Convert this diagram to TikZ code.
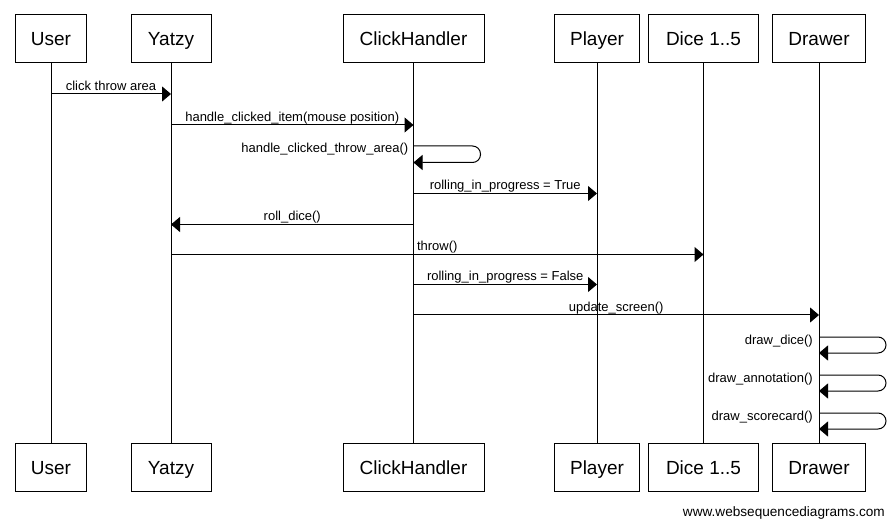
\documentclass[tikz,border=0pt]{standalone}
\usepackage{fontspec}
\setmainfont{Liberation Sans}
\usetikzlibrary{arrows.meta,calc}
\begin{document}
\begin{tikzpicture}[x=1pt,y=-1pt,
  actor/.style={draw,line width=1pt,minimum height=48pt,inner xsep=0pt,
    text height=13.6pt,text depth=0pt,font=\fontsize{19}{22}\selectfont},
  life/.style={line width=1pt},
  msg/.style={line width=1pt,-{Triangle[length=9pt,width=15pt]}},
  lbl/.style={font=\fontsize{13}{15}\selectfont,inner sep=0pt,anchor=base},
  slbl/.style={font=\fontsize{13}{15}\selectfont,inner sep=0pt,anchor=base east},
  selfmsg/.style={line width=1pt,rounded corners=8pt,-{Triangle[length=9pt,width=15pt]}},
  foot/.style={font=\fontsize{13.6}{16}\selectfont,inner sep=0pt,anchor=base east}
]
\useasboundingbox (0,0) rectangle (896,526);
\fill[white] (0,0) rectangle (896,526);

% top actors
\node[actor,minimum width=71pt]  (tU) at (51,39)    {User};
\node[actor,minimum width=80pt]  (tY) at (171,39)   {Yatzy};
\node[actor,minimum width=141pt] (tC) at (413.5,39) {ClickHandler};
\node[actor,minimum width=85pt]  (tP) at (597,39)   {Player};
\node[actor,minimum width=110pt] (tD) at (703.5,39) {Dice 1..5};
\node[actor,minimum width=93pt]  (tR) at (819,39)   {Drawer};
% bottom actors
\node[actor,minimum width=71pt]  (bU) at (51,467.5)    {User};
\node[actor,minimum width=80pt]  (bY) at (171,467.5)   {Yatzy};
\node[actor,minimum width=141pt] (bC) at (413.5,467.5) {ClickHandler};
\node[actor,minimum width=85pt]  (bP) at (597,467.5)   {Player};
\node[actor,minimum width=110pt] (bD) at (703.5,467.5) {Dice 1..5};
\node[actor,minimum width=93pt]  (bR) at (819,467.5)   {Drawer};

% lifelines
\foreach \a in {U,Y,C,P,D,R} \draw[life] (t\a.south) -- (b\a.north);

% message rows
\coordinate (m1) at (0,94);
\coordinate (m2) at (0,125);
\coordinate (m3a) at (0,146);
\coordinate (m3b) at (0,162.5);
\coordinate (m4) at (0,193.5);
\coordinate (m5) at (0,224.5);
\coordinate (m6) at (0,254.5);
\coordinate (m7) at (0,284.5);
\coordinate (m8) at (0,315);
\coordinate (m9a) at (0,337);
\coordinate (m9b) at (0,353);
\coordinate (m10a) at (0,375);
\coordinate (m10b) at (0,391);
\coordinate (m11a) at (0,413);
\coordinate (m11b) at (0,429);

\draw[msg] (tU |- m1) -- node[lbl,yshift=3.5pt]{click throw area} (tY |- m1);
\draw[msg] (tY |- m2) -- node[lbl,yshift=3.5pt]{handle\_clicked\_item(mouse position)} (tC |- m2);
\draw[selfmsg] (tC |- m3a) -- ++(67,0) |- (tC |- m3b);
\node[slbl] (l3) at ($(tC |- m3a)+(-5,7)$) {handle\_clicked\_throw\_area()};
\draw[msg] (tC |- m4) -- node[lbl,yshift=3.5pt]{rolling\_in\_progress = True} (tP |- m4);
\draw[msg] (tC |- m5) -- node[lbl,yshift=3.5pt]{roll\_dice()} (tY |- m5);
\draw[msg] (tY |- m6) -- node[lbl,yshift=3.5pt]{throw()} (tD |- m6);
\draw[msg] (tC |- m7) -- node[lbl,yshift=3.5pt]{rolling\_in\_progress = False} (tP |- m7);
\draw[msg] (tC |- m8) -- node[lbl,yshift=3.5pt]{update\_screen()} (tR |- m8);
\draw[selfmsg] (tR |- m9a) -- ++(67,0) |- (tR |- m9b);
\node[slbl] (l9) at ($(tR |- m9a)+(-6,7)$) {draw\_dice()};
\draw[selfmsg] (tR |- m10a) -- ++(67,0) |- (tR |- m10b);
\node[slbl] (l10) at ($(tR |- m10a)+(-6,7)$) {draw\_annotation()};
\draw[selfmsg] (tR |- m11a) -- ++(67,0) |- (tR |- m11b);
\node[slbl] (l11) at ($(tR |- m11a)+(-6,7)$) {draw\_scorecard()};

\node[foot] (ft) at (885,516) {www.websequencediagrams.com};
\end{tikzpicture}
\end{document}
